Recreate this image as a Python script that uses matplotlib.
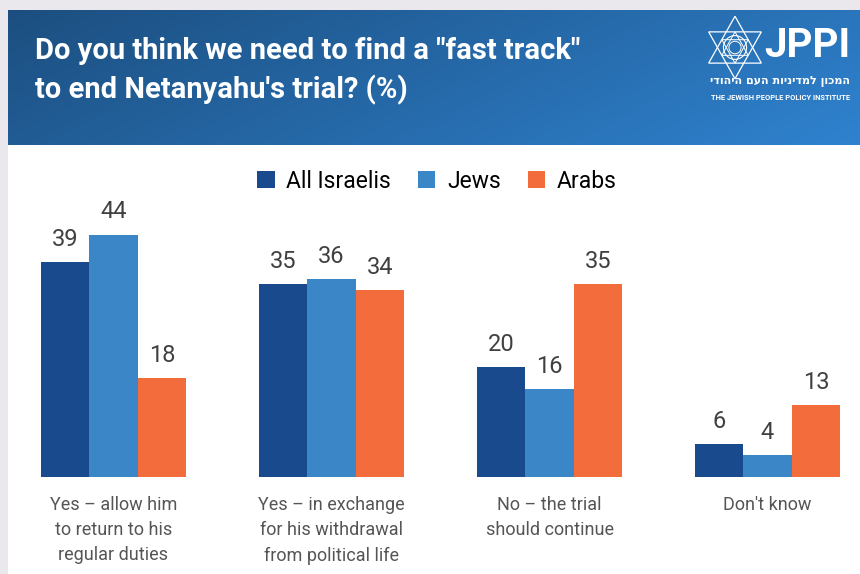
import numpy as np
import matplotlib
matplotlib.use("Agg")
import matplotlib.pyplot as plt
from matplotlib.colors import LinearSegmentedColormap
from matplotlib.patches import Rectangle, Polygon

categories = ["Yes \u2013 allow him\nto return to his\nregular duties",
              "Yes \u2013 in exchange\nfor his withdrawal\nfrom political life",
              "No \u2013 the trial\nshould continue",
              "Don't know"]
series = ["All Israelis", "Jews", "Arabs"]
all_israelis = [39, 35, 20, 6]
jews = [44, 36, 16, 4]
arabs = [18, 34, 35, 13]
colors = ["#1A4A8E", "#3A86C7", "#F26D3B"]

title = "Do you think we need to find a \"fast track\"\nto end Netanyahu's trial? (%)"
hebrew = "המכון למדיניות העם היהודי"

W, H = 860, 574
fig = plt.figure(figsize=(W / 100, H / 100), dpi=100)
fig.patch.set_facecolor("#EAE8ED")


def px(x, y):
    # pixel (from top-left) -> figure fraction
    return x / W, 1 - y / H


# white panel and gradient header
bg = fig.add_axes([8 / W, 0, 1 - 8 / W, 1 - 10 / H])
bg.set_xlim(0, 1)
bg.set_ylim(0, 1)
bg.axis("off")
bg.add_patch(Rectangle((0, 0), 1, 1, color="white"))
hx = np.linspace(0, 1, 200)
hy = np.linspace(0, 1, 60)
gx, gy = np.meshgrid(hx, hy)
grad = 0.75 * gx + 0.25 * gy
cmap = LinearSegmentedColormap.from_list("hdr", ["#1C4F80", "#2F82CF"])
head = fig.add_axes([8 / W, 1 - 145 / H, 1 - 8 / W, 135 / H])
head.imshow(grad, cmap=cmap, aspect="auto", extent=[0, 1, 0, 1], origin="upper")
head.axis("off")

fig.text(*px(35, 71), title, color="white", fontsize=21, fontweight="bold",
         family="Roboto", va="center", ha="left", linespacing=1.45)

# logo: star of David with circle
logo = fig.add_axes([700 / W, 1 - 85 / H, 70 / W, 75 / H])
logo.set_xlim(-1.15, 1.15)
logo.set_ylim(-1.2, 1.2)
logo.axis("off")
ang = np.deg2rad([90, 210, 330])
for rot in (0, np.pi):
    pts = np.c_[np.cos(ang + rot), np.sin(ang + rot)]
    logo.add_patch(Polygon(pts, closed=True, fill=False, ec="white", lw=0.9))
    logo.add_patch(Polygon(pts * 0.5, closed=True, fill=False, ec="white", lw=0.7))
logo.add_patch(plt.Circle((0, 0), 0.38, fill=False, ec="white", lw=0.8))
logo.add_patch(plt.Circle((0, 0), 0.2, fill=False, ec="white", lw=0.7))
fig.text(*px(850, 46), "JPPI", color="white", fontsize=29, fontweight="bold",
         family="Roboto", va="center", ha="right")
fig.text(*px(850, 82), hebrew[::-1], color="white", fontsize=8,
         fontweight="bold", family="DejaVu Sans", va="center", ha="right")
fig.text(*px(850, 98), "THE JEWISH PEOPLE POLICY INSTITUTE", color="white",
         fontsize=5.4, fontweight="bold", family="Roboto",
         va="center", ha="right")

# bars
base_px, top_px = 477, 150
unit = 5.51
ax = fig.add_axes([0, 1 - base_px / H, 1, (base_px - top_px) / H])
ax.set_xlim(-113.5 / 218, (W - 113.5) / 218)
ax.set_ylim(0, (base_px - top_px) / unit)
ax.axis("off")

x = np.arange(len(categories))
w = 48.5 / 218
for i, (vals, c) in enumerate(zip([all_israelis, jews, arabs], colors)):
    bars = ax.bar(x + (i - 1) * w, vals, width=w, color=c, label=series[i])
    for b, v in zip(bars, vals):
        ax.annotate(str(v), (b.get_x() + b.get_width() / 2, v), xytext=(0, 8),
                    textcoords="offset points", ha="center", va="bottom",
                    fontsize=17, color="#404040", family="Roboto")

for xi, lab in zip(x, categories):
    ax.annotate(lab, (xi, 0), xytext=(0, -14), textcoords="offset points",
                ha="center", va="top", fontsize=13, color="#555555",
                family="Roboto", linespacing=1.5)

fig.legend(loc="center", bbox_to_anchor=px(437, 181), ncol=3, frameon=False,
           handlelength=0.75, handleheight=0.75, handletextpad=0.5,
           columnspacing=1.2, prop={"family": "Roboto", "size": 16.5})

fig.savefig("out.png", dpi=100, facecolor=fig.get_facecolor())
